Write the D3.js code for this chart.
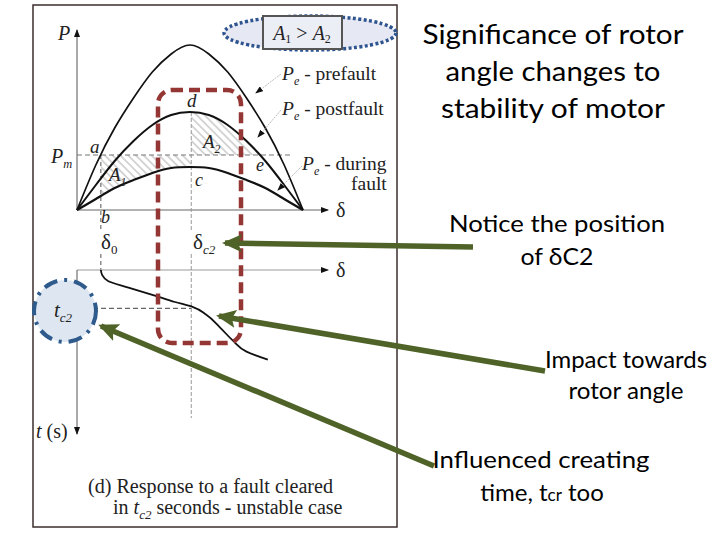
<!DOCTYPE html>
<html>
<head>
<meta charset="utf-8">
<script src="https://cdn.jsdelivr.net/npm/d3@7"></script>
<style>
  html, body { margin: 0; padding: 0; background: #fff; }
  svg { display: block; }
</style>
</head>
<body>
<svg id="chart" width="720" height="540"></svg>
<script>
/*****************************************************************************/
/* Data: power-angle curves and swing curve */
/*****************************************************************************/
const deltaDeg   = [0, 15, 30, 45, 60, 75, 90, 105, 120, 135, 150, 165, 180];
const pPrefault  = [0, 0.45, 0.82, 1.12, 1.38, 1.56, 1.65, 1.56, 1.38, 1.12, 0.82, 0.45, 0];
const pPostfault = [0, 0.25, 0.49, 0.69, 0.85, 0.95, 0.98, 0.95, 0.85, 0.69, 0.49, 0.25, 0];
const pDuring    = [0, 0.11, 0.22, 0.30, 0.37, 0.42, 0.43, 0.42, 0.37, 0.30, 0.22, 0.11, 0];

const pMech   = 0.55;
const delta0  = 19;
const deltaC2 = 91;
const deltaE  = 146;

const swingDelta = [19, 20, 25, 41, 62, 78, 92, 103, 114, 124, 135, 152];
const swingTime  = [0, 0.03, 0.07, 0.11, 0.16, 0.20, 0.23, 0.28, 0.36, 0.44, 0.51, 0.56];
const tC2 = 0.24;

const curveNames = ["prefault", "postfault", "during"];

const titleLines  = ["Significance of rotor", "angle changes to", "stability of motor"];
const noteDelta   = ["Notice the position", "of \u03b4C2"];
const noteImpact  = ["Impact towards", "rotor angle"];
const captionRows = ["(d) Response to a fault cleared", "seconds - unstable case"];

/*****************************************************************************/
/* Scales */
/*****************************************************************************/
const svg = d3.select("#chart");
const defs = svg.append("defs");

const x  = d3.scaleLinear().domain([0, 180]).range([77, 303]);
const yP = d3.scaleLinear().domain([0, 1.65]).range([210, 45]);
const yT = d3.scaleLinear().domain([0, 1]).range([270, 430]);

const serif = "'Liberation Serif', 'DejaVu Serif', serif";
const sans  = "Lato, 'Open Sans', sans-serif";
const ink   = "#222";

// hatch + clips + markers
defs.append("pattern")
  .attr("id", "hatch").attr("patternUnits", "userSpaceOnUse")
  .attr("width", 5.5).attr("height", 5.5).attr("patternTransform", "rotate(-45)")
  .append("line").attr("x1", 2.75).attr("y1", 0).attr("x2", 2.75).attr("y2", 5.5)
  .attr("stroke", "#9a9a9a").attr("stroke-width", 0.8);

defs.append("clipPath").attr("id", "clipA1").append("rect")
  .attr("x", x(delta0)).attr("y", 0).attr("width", x(deltaC2) - x(delta0)).attr("height", 300);
defs.append("clipPath").attr("id", "clipA2").append("rect")
  .attr("x", x(deltaC2)).attr("y", 0).attr("width", x(deltaE) - x(deltaC2)).attr("height", 300);

defs.append("marker").attr("id", "arrG")
  .attr("markerUnits", "userSpaceOnUse").attr("viewBox", "0 0 20 18")
  .attr("markerWidth", 20).attr("markerHeight", 18).attr("refX", 17).attr("refY", 9)
  .attr("orient", "auto")
  .append("path").attr("d", "M0,0 L20,9 L0,18 L4,9 Z").attr("fill", "#4f6228");

defs.append("marker").attr("id", "arrS")
  .attr("markerUnits", "userSpaceOnUse").attr("viewBox", "0 0 8 6")
  .attr("markerWidth", 8).attr("markerHeight", 6).attr("refX", 7).attr("refY", 3)
  .attr("orient", "auto")
  .append("path").attr("d", "M0,0 L8,3 L0,6 Z").attr("fill", "#111");

/*****************************************************************************/
/* Frame of the scanned figure */
/*****************************************************************************/
svg.append("rect").attr("x", 33).attr("y", 5).attr("width", 364).attr("height", 522)
  .attr("fill", "#fff").attr("stroke", "#3b2e2e").attr("stroke-width", 1.5);

/*****************************************************************************/
/* Upper plot: P - delta */
/*****************************************************************************/
const pts = (arr) => deltaDeg.map((d, i) => ({delta: d, p: arr[i]}));

const area = d3.area().x(d => x(d.delta)).y0(yP(pMech)).y1(d => yP(d.p)).curve(d3.curveNatural);
svg.append("path").attr("d", area(pts(pDuring))).attr("fill", "url(#hatch)").attr("clip-path", "url(#clipA1)");
svg.append("path").attr("d", area(pts(pPostfault))).attr("fill", "url(#hatch)").attr("clip-path", "url(#clipA2)");

// axes
svg.append("line").attr("x1", x(0)).attr("y1", yP(0)).attr("x2", x(0)).attr("y2", 30)
  .attr("stroke", "#555").attr("stroke-width", 1).attr("marker-end", "url(#arrS)");
svg.append("line").attr("x1", x(0)).attr("y1", yP(0)).attr("x2", 328).attr("y2", yP(0))
  .attr("stroke", "#666").attr("stroke-width", 1.2).attr("marker-end", "url(#arrS)");

// Pm line and verticals
svg.append("line").attr("x1", x(0)).attr("x2", 290).attr("y1", yP(pMech)).attr("y2", yP(pMech))
  .attr("stroke", "#777").attr("stroke-width", 1.2).attr("stroke-dasharray", "5 3");
[[yP(pMech), 232], [254, yT(0)]].forEach(s => {
  svg.append("line").attr("x1", x(delta0)).attr("x2", x(delta0)).attr("y1", s[0]).attr("y2", s[1])
    .attr("stroke", "#555").attr("stroke-width", 1).attr("stroke-dasharray", "4 3");
});
[[yP(0.98), 232], [254, 418]].forEach(s => {
  svg.append("line").attr("x1", x(deltaC2)).attr("x2", x(deltaC2)).attr("y1", s[0]).attr("y2", s[1])
    .attr("stroke", "#999").attr("stroke-width", 1).attr("stroke-dasharray", "4 2");
});

const line = d3.line().x(d => x(d.delta)).y(d => yP(d.p)).curve(d3.curveNatural);
[pPrefault, pPostfault, pDuring].forEach((arr, i) => {
  svg.append("path").attr("class", "curve-" + curveNames[i]).attr("d", line(pts(arr)))
    .attr("fill", "none").attr("stroke", "#111").attr("stroke-width", [1.7, 2, 2.2][i]);
});

// leaders from the curve labels
[[281, 74, 256, 93], [281, 110, 258, 137], [302, 166, 278, 190]].forEach(l => {
  svg.append("line").attr("x1", l[0]).attr("y1", l[1]).attr("x2", l[2]).attr("y2", l[3])
    .attr("stroke", "#aaa").attr("stroke-width", 0.8).attr("stroke-dasharray", "2 1")
    .attr("marker-end", "url(#arrS)");
});

// label: main glyph (italic unless told), optional subscript, optional plain rest
function addLabel(px, py, main, sub, rest, size, upright) {
  const t = svg.append("text").attr("x", px).attr("y", py)
    .attr("font-family", serif).attr("font-size", size).attr("fill", ink);
  t.append("tspan").attr("font-style", upright ? "normal" : "italic").text(main);
  if (sub) t.append("tspan").attr("font-style", upright ? "normal" : "italic")
    .attr("font-size", size * 0.62).attr("dy", size * 0.25).text(sub);
  if (rest) t.append("tspan").attr("dy", sub ? -size * 0.25 : 0).text(rest);
  return t;
}

addLabel(58, 40, "P", null, null, 20);
addLabel(51, 163, "P", "m", null, 20);
addLabel(90, 153, "a", null, null, 19);
addLabel(101, 223, "b", null, null, 18);
addLabel(195, 186, "c", null, null, 18);
addLabel(187, 107, "d", null, null, 19);
addLabel(256, 171, "e", null, null, 18);
addLabel(109, 181, "A", "1", null, 19);
addLabel(203, 148, "A", "2", null, 19);
addLabel(282, 80, "P", "e", " - prefault", 19.5);
addLabel(282, 115, "P", "e", " - postfault", 19.5);
addLabel(302, 170, "P", "e", " - during", 19.5);
svg.append("text").attr("x", 351).attr("y", 190).attr("font-family", serif)
  .attr("font-size", 19.5).attr("fill", ink).text("fault");
svg.append("text").attr("x", 336).attr("y", yP(0) + 7).attr("font-family", serif)
  .attr("font-size", 20).attr("fill", ink).text("\u03b4");

// A1 > A2 badge
svg.append("ellipse").attr("cx", 310).attr("cy", 33).attr("rx", 86).attr("ry", 17)
  .attr("fill", "#e6e8f3").attr("stroke", "#2e5490").attr("stroke-width", 3.5)
  .attr("stroke-dasharray", "3 2.4");
svg.append("rect").attr("x", 263).attr("y", 16).attr("width", 79).attr("height", 33)
  .attr("fill", "#eceef6").attr("stroke", "#555").attr("stroke-width", 2);
const badge = svg.append("text").attr("x", 302).attr("y", 40).attr("text-anchor", "middle")
  .attr("font-family", serif).attr("font-size", 20).attr("fill", ink);
badge.append("tspan").attr("font-style", "italic").text("A");
badge.append("tspan").attr("font-size", 12).attr("dy", 3).text("1");
badge.append("tspan").attr("dy", -3).text(" > ");
badge.append("tspan").attr("font-style", "italic").text("A");
badge.append("tspan").attr("font-size", 12).attr("dy", 3).text("2");

/*****************************************************************************/
/* Lower plot: swing curve delta(t) */
/*****************************************************************************/
svg.append("line").attr("x1", x(0)).attr("y1", yT(0)).attr("x2", 328).attr("y2", yT(0))
  .attr("stroke", "#999").attr("stroke-width", 1.2).attr("marker-end", "url(#arrS)");
svg.append("line").attr("x1", x(0)).attr("y1", yT(0)).attr("x2", x(0)).attr("y2", 434)
  .attr("stroke", "#555").attr("stroke-width", 1).attr("marker-end", "url(#arrS)");
svg.append("text").attr("x", 336).attr("y", yT(0) + 7).attr("font-family", serif)
  .attr("font-size", 20).attr("fill", ink).text("\u03b4");

svg.append("line").attr("x1", x(0)).attr("x2", x(deltaC2)).attr("y1", yT(tC2)).attr("y2", yT(tC2))
  .attr("stroke", "#666").attr("stroke-width", 1.2).attr("stroke-dasharray", "5 3");

const swing = d3.line().x(d => x(d[0])).y(d => yT(d[1])).curve(d3.curveMonotoneY);
svg.append("path").attr("d", swing(swingDelta.map((d, i) => [d, swingTime[i]])))
  .attr("fill", "none").attr("stroke", "#111").attr("stroke-width", 1.8);

addLabel(101, 249, "\u03b4", "0", null, 21, true);
const dc = addLabel(193, 249, "\u03b4", "c2", null, 21, true);
dc.select("tspan:nth-child(2)").attr("font-style", "italic");

// t axis label
const tl = svg.append("text").attr("x", 36).attr("y", 438).attr("font-family", serif)
  .attr("font-size", 20).attr("fill", ink);
tl.append("tspan").attr("font-style", "italic").text("t");
tl.append("tspan").text(" (s)");

// tc2 highlight circle
svg.append("circle").attr("cx", 65).attr("cy", 311).attr("r", 31)
  .attr("fill", "#dde6f1").attr("stroke", "#2e5a8c").attr("stroke-width", 4)
  .attr("stroke-dasharray", "14 7 3 7");
addLabel(54, 317, "t", "c2", null, 21);

// caption
svg.append("text").attr("x", 88).attr("y", 493).attr("font-family", serif)
  .attr("font-size", 20).attr("fill", ink)
  .attr("textLength", 245).attr("lengthAdjust", "spacingAndGlyphs").text(captionRows[0]);
const cap2 = svg.append("text").attr("x", 113).attr("y", 514).attr("font-family", serif)
  .attr("font-size", 20).attr("fill", ink);
cap2.append("tspan").text("in ");
cap2.append("tspan").attr("font-style", "italic").text("t");
cap2.append("tspan").attr("font-style", "italic").attr("font-size", 13).attr("dy", 5).text("c2");
cap2.append("tspan").attr("dy", -5).text(" " + captionRows[1]);

/*****************************************************************************/
/* Highlights and callouts */
/*****************************************************************************/
svg.append("rect").attr("x", 158).attr("y", 90).attr("width", 83).attr("height", 253).attr("rx", 14)
  .attr("fill", "none").attr("stroke", "#943634").attr("stroke-width", 4.5)
  .attr("stroke-dasharray", "11 6");

[[473, 247, 225, 243], [545, 371, 219, 316], [434, 466, 101, 326]].forEach(a => {
  svg.append("line").attr("x1", a[0]).attr("y1", a[1]).attr("x2", a[2]).attr("y2", a[3])
    .attr("stroke", "#4f6228").attr("stroke-width", 5.5).attr("marker-end", "url(#arrG)");
});

function block(lines, cx, y0, step, size, widths) {
  lines.forEach((s, i) => {
    svg.append("text").attr("x", cx).attr("y", y0 + i * step).attr("text-anchor", "middle")
      .attr("font-family", sans).attr("font-size", size).attr("fill", "#000")
      .attr("textLength", widths[i]).attr("lengthAdjust", "spacingAndGlyphs").text(s);
  });
}
block(titleLines, 553, 44, 37, 27, [261, 215, 224]);
block(noteDelta, 557, 232, 33, 24, [216, 73]);
block(noteImpact, 626, 368, 31, 24, [162, 115]);
block(["Influenced creating"], 541, 468, 0, 24, [217]);

const tm = svg.append("text").attr("x", 542).attr("y", 501).attr("text-anchor", "middle")
  .attr("font-family", sans).attr("font-size", 24).attr("fill", "#000");
tm.append("tspan").text("time, t");
tm.append("tspan").attr("font-size", 17).text("cr");
tm.append("tspan").text(" too");
</script>
</body>
</html>
